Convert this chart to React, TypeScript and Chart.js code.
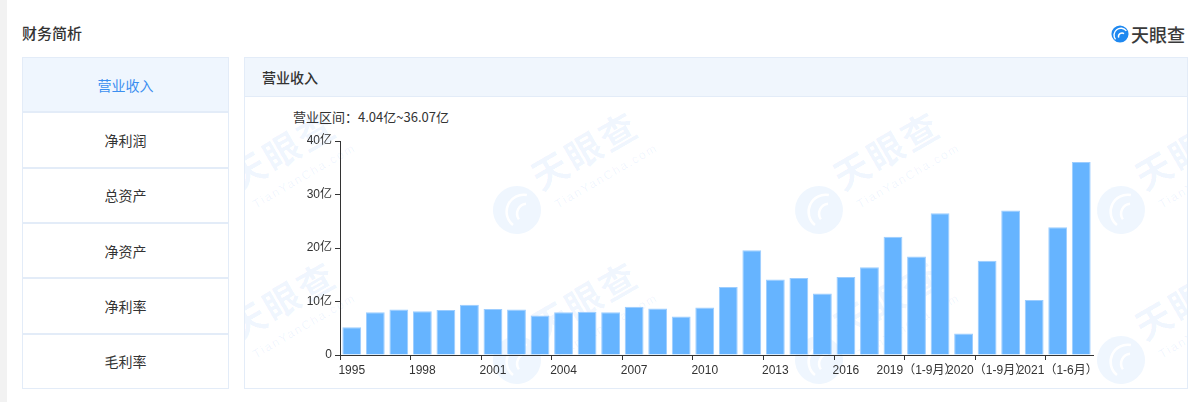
import React, { useEffect, useRef } from "react";
import { Chart, registerables } from "chart.js";

Chart.register(...registerables);

const categories: string[] = [
  "1995", "1996", "1997", "1998", "1999", "2000", "2001", "2002", "2003", "2004",
  "2005", "2006", "2007", "2008", "2009", "2010", "2011", "2012", "2013", "2014",
  "2015", "2016", "2017", "2018", "2019（1-9月）", "2019", "2020（1-3月）", "2020（1-9月）",
  "2020", "2021（1-3月）", "2021（1-6月）", "2021（1-9月）",
];

const revenue: number[] = [
  5.2, 8.0, 8.5, 8.2, 8.4, 9.4, 8.6, 8.5, 7.4, 8.0,
  8.1, 8.0, 9.0, 8.7, 7.2, 8.9, 12.7, 19.6, 14.1, 14.4,
  11.5, 14.6, 16.4, 22.1, 18.4, 26.5, 4.04, 17.6,
  27.0, 10.3, 23.9, 36.07,
];

const yTicks: number[] = [0, 10, 20, 30, 40];
const yUnit = "亿";
const labelEvery = 3;

const menuItems: string[] = ["营业收入", "净利润", "总资产", "净资产", "净利率", "毛利率"];
const pageTitle = "财务简析";
const panelTitle = "营业收入";
const rangeText = "营业区间：4.04亿~36.07亿";

const wmCols: number[] = [215, 517, 819, 1121];
const wmRows: number[] = [210, 360];

const FONT = '"Helvetica Neue", Arial, "Liberation Sans", "Noto Sans CJK SC", sans-serif';
const CJK = '"Noto Sans CJK SC", "Helvetica Neue", Arial, sans-serif';

const BODY_LEFT = 245;
const BODY_TOP = 96;

function Watermark({ cx, cy }: { cx: number; cy: number }) {
  const c = "rgba(24,125,245,0.07)";
  return (
    <div
      style={{
        position: "absolute",
        left: cx - BODY_LEFT,
        top: cy - BODY_TOP,
        width: 0,
        height: 0,
        transform: "rotate(-30deg)",
        transformOrigin: "0 0",
      }}
    >
      <svg width={50} height={50} viewBox="0 0 50 50" style={{ position: "absolute", left: -25, top: -25 }}>
        <circle cx={25} cy={25} r={24} fill={c} />
        <path d="M41 17 A17 17 0 0 0 14 36" stroke="#fff" strokeWidth={2.5} fill="none" />
        <path d="M36 24 A10 10 0 0 0 22 34" stroke="#fff" strokeWidth={2.5} fill="none" />
      </svg>
      <div
        style={{
          position: "absolute",
          left: 30,
          top: -40,
          fontFamily: CJK,
          fontWeight: 700,
          fontSize: 36,
          letterSpacing: 3,
          lineHeight: "40px",
          whiteSpace: "nowrap",
          color: c,
        }}
      >
        天眼查
      </div>
      <div
        style={{
          position: "absolute",
          left: 36,
          top: 8,
          fontFamily: FONT,
          fontSize: 12,
          letterSpacing: 1.8,
          lineHeight: "14px",
          whiteSpace: "nowrap",
          color: c,
        }}
      >
        TianYanCha.com
      </div>
    </div>
  );
}

function RevenueChart() {
  const ref = useRef<HTMLCanvasElement | null>(null);
  useEffect(() => {
    if (!ref.current) return;
    const chart = new Chart(ref.current, {
      type: "bar",
      data: {
        labels: categories,
        datasets: [
          {
            data: revenue,
            backgroundColor: "#66b4ff",
            borderColor: "#9ccdff",
            borderWidth: 1,
            categoryPercentage: 1,
            barPercentage: 0.8,
          },
        ],
      },
      options: {
        animation: false,
        responsive: false,
        maintainAspectRatio: false,
        events: [],
        layout: { padding: { left: 45, right: 94, top: 45, bottom: 2 } },
        plugins: { legend: { display: false }, tooltip: { enabled: false } },
        scales: {
          x: {
            offset: true,
            grid: {
              display: true,
              offset: true,
              drawOnChartArea: false,
              drawTicks: true,
              tickLength: 5,
              lineWidth: 1,
              color: (ctx: any) => (ctx.index % labelEvery === 0 ? "#333" : "rgba(0,0,0,0)"),
            },
            border: { display: true, color: "#333", width: 1 },
            ticks: {
              autoSkip: false,
              maxRotation: 0,
              minRotation: 0,
              padding: 3,
              color: "#333",
              font: { size: 12, family: FONT },
              callback: (_v: any, i: number) => (i % labelEvery === 0 ? categories[i] : ""),
            },
            afterFit: (s: any) => {
              s.height = 30;
            },
          },
          y: {
            min: yTicks[0],
            max: yTicks[yTicks.length - 1],
            afterBuildTicks: (s: any) => {
              s.ticks = yTicks.map((v) => ({ value: v }));
            },
            grid: {
              display: true,
              drawOnChartArea: false,
              drawTicks: true,
              tickLength: 5,
              color: "#333",
            },
            border: { display: true, color: "#333", width: 1 },
            ticks: {
              padding: 3,
              color: "#333",
              font: { size: 12, family: FONT },
              callback: (v: any) => (Number(v) === 0 ? "0" : `${v}${yUnit}`),
            },
            afterFit: (s: any) => {
              s.width = 50;
            },
          },
        },
      },
    });
    return () => chart.destroy();
  }, []);
  return (
    <canvas
      ref={ref}
      width={942}
      height={291}
      style={{ position: "absolute", left: 0, top: 0, width: 942, height: 291 }}
    />
  );
}

function LogoIcon() {
  return (
    <svg width={18} height={18} viewBox="0 0 20 20" style={{ position: "absolute", left: 1111, top: 25 }}>
      <circle cx={10} cy={10} r={9.5} fill="#1e88f0" />
      <path d="M17 6.5 A7.5 7.5 0 0 0 5 16" stroke="#fff" strokeWidth={1.6} fill="none" />
      <path d="M14.5 9.5 A4 4 0 0 0 8.5 14" stroke="#fff" strokeWidth={1.6} fill="none" />
    </svg>
  );
}

export default function App() {
  const border = "#e3ecf8";
  return (
    <div
      style={{
        position: "absolute",
        left: 0,
        top: 0,
        width: 1200,
        height: 402,
        background: "#fff",
        overflow: "hidden",
        fontFamily: CJK,
        color: "#333",
      }}
    >
      <div style={{ position: "absolute", left: 0, top: 0, width: 7, height: 402, background: "#f2f2f2" }} />

      <div
        style={{
          position: "absolute",
          left: 22,
          top: 23,
          fontSize: 15,
          fontWeight: 500,
          lineHeight: "20px",
          color: "#333",
          whiteSpace: "nowrap",
        }}
      >
        {pageTitle}
      </div>

      <LogoIcon />
      <div
        style={{
          position: "absolute",
          left: 1131,
          top: 22,
          fontSize: 18,
          fontWeight: 500,
          lineHeight: "24px",
          color: "#3a3a3a",
          whiteSpace: "nowrap",
        }}
      >
        天眼查
      </div>

      {/* sidebar */}
      <div
        style={{
          position: "absolute",
          left: 22,
          top: 57,
          width: 207,
          height: 332,
          boxSizing: "border-box",
          border: `1px solid ${border}`,
          display: "flex",
          flexDirection: "column",
        }}
      >
        {menuItems.map((m, i) => (
          <div
            key={m}
            style={{
              flex: 1,
              display: "flex",
              alignItems: "center",
              justifyContent: "center",
              fontSize: 14,
              background: i === 0 ? "#eff6fe" : "#fff",
              color: i === 0 ? "#3b8ff0" : "#333",
              borderTop: i === 0 ? "none" : `2px solid ${border}`,
            }}
          >
            {m}
          </div>
        ))}
      </div>

      {/* panel */}
      <div
        style={{
          position: "absolute",
          left: 244,
          top: 57,
          width: 944,
          height: 332,
          boxSizing: "border-box",
          border: `1px solid ${border}`,
        }}
      >
        <div
          style={{
            height: 39,
            boxSizing: "border-box",
            background: "#f0f6fd",
            borderBottom: `1px solid ${border}`,
            paddingLeft: 17,
            fontSize: 14,
            fontWeight: 500,
            lineHeight: "38px",
            color: "#333",
          }}
        >
          {panelTitle}
        </div>
      </div>

      <div
        style={{
          position: "absolute",
          left: BODY_LEFT,
          top: BODY_TOP,
          width: 942,
          height: 291,
          overflow: "hidden",
        }}
      >
        {wmRows.map((y) =>
          wmCols.map((x) => <Watermark key={`${x}-${y}`} cx={x} cy={y} />)
        )}
        <div
          style={{
            position: "absolute",
            left: 293 - BODY_LEFT,
            top: 108 - BODY_TOP,
            fontSize: 13,
            lineHeight: "18px",
            color: "#333",
            whiteSpace: "nowrap",
            fontFamily: CJK,
          }}
        >
          {rangeText}
        </div>
        <RevenueChart />
      </div>
    </div>
  );
}
